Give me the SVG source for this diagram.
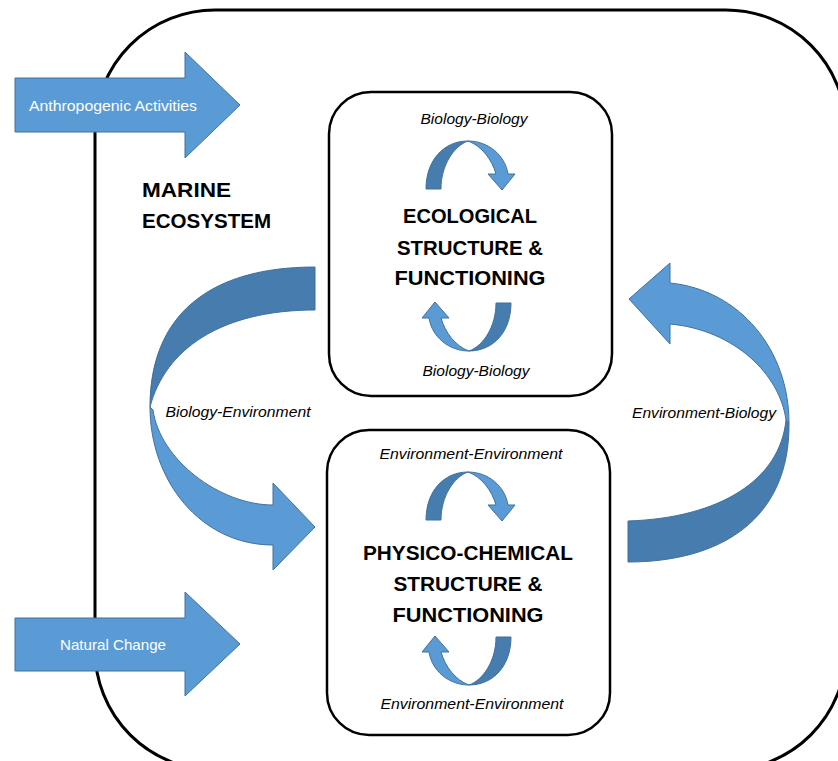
<svg xmlns="http://www.w3.org/2000/svg" xmlns:xlink="http://www.w3.org/1999/xlink" width="838" height="761" viewBox="0 0 838 761">
<style>
.frame{fill:none;stroke:#000;stroke-width:3}
.box{fill:#fff;stroke:#000;stroke-width:2.5}
.lt{fill:#5B9BD5;stroke:#41719C;stroke-width:1}
.dk{fill:#477CAE;stroke:#41719C;stroke-width:1}
.blk{fill:#5B9BD5;stroke:#41719C;stroke-width:1}
.ital{font-family:"Liberation Sans",Arial,sans-serif;font-style:italic;font-size:15px;fill:#000;text-anchor:middle}
.bold{font-family:"Liberation Sans",Arial,sans-serif;font-weight:bold;font-size:21px;fill:#000;text-anchor:middle}
.wt{font-family:"Liberation Sans",Arial,sans-serif;font-size:14.5px;fill:#fff;text-anchor:middle}
.ttl{font-family:"Liberation Sans",Arial,sans-serif;font-weight:bold;font-size:20.5px;fill:#000}
</style>
<defs>
<g id="ca">
<path class="dk" d="M426,189 C426,160 444,141 468,141 C454,146 441,165 441,189 Z"/>
<path class="lt" d="M468,141 C488,141 505,155 508,174 L515,174 L502,190 L488,174 L496,174 C492,160 482,146 468,141 Z"/>
</g>
</defs>
<rect id="marine-ecosystem" class="frame" x="95" y="10" width="751" height="760" rx="120" ry="120"/>
<text class="ttl" x="142" y="197" textLength="89" lengthAdjust="spacingAndGlyphs">MARINE</text>
<text class="ttl" x="142" y="228" textLength="129" lengthAdjust="spacingAndGlyphs">ECOSYSTEM</text>
<g id="anthropogenic">
<path class="blk" d="M15,78 L185,78 L185,52 L240,105 L185,158 L185,132 L15,132 Z"/>
<text class="wt" x="113" y="111" textLength="168" lengthAdjust="spacingAndGlyphs">Anthropogenic Activities</text>
</g>
<g id="natural">
<path class="blk" d="M15,618 L185,618 L185,592 L240,644 L185,696 L185,671 L15,671 Z"/>
<text class="wt" x="113" y="650" textLength="106" lengthAdjust="spacingAndGlyphs">Natural Change</text>
</g>
<g id="ecological">
<rect class="box" x="329" y="92" width="283" height="304" rx="42" ry="42"/>
<text class="ital" x="474" y="124" textLength="107" lengthAdjust="spacingAndGlyphs">Biology-Biology</text>
<text class="bold" x="470" y="223" textLength="134" lengthAdjust="spacingAndGlyphs">ECOLOGICAL</text>
<text class="bold" x="470" y="255" textLength="146" lengthAdjust="spacingAndGlyphs">STRUCTURE &amp;</text>
<text class="bold" x="470" y="285" textLength="151" lengthAdjust="spacingAndGlyphs">FUNCTIONING</text>
<text class="ital" x="476" y="376" textLength="107" lengthAdjust="spacingAndGlyphs">Biology-Biology</text>
<use xlink:href="#ca" href="#ca"/>
<use xlink:href="#ca" href="#ca" transform="rotate(180 468.5 246)"/>
</g>
<g id="physico">
<rect class="box" x="327" y="430" width="283" height="305" rx="42" ry="42"/>
<text class="ital" x="471" y="459" textLength="183" lengthAdjust="spacingAndGlyphs">Environment-Environment</text>
<text class="bold" x="468" y="560" textLength="210" lengthAdjust="spacingAndGlyphs">PHYSICO-CHEMICAL</text>
<text class="bold" x="468" y="591" textLength="149" lengthAdjust="spacingAndGlyphs">STRUCTURE &amp;</text>
<text class="bold" x="468" y="622" textLength="151" lengthAdjust="spacingAndGlyphs">FUNCTIONING</text>
<text class="ital" x="472" y="709" textLength="183" lengthAdjust="spacingAndGlyphs">Environment-Environment</text>
<use xlink:href="#ca" href="#ca" transform="translate(0,331)"/>
<use xlink:href="#ca" href="#ca" transform="translate(0,334) rotate(180 468.5 246)"/>
</g>
<g id="connectors">
<g id="bio-env">
<path class="dk" d="M315,267 C208,267 150,316 150,407 C165,350 220,310 315,310 Z"/>
<path class="lt" d="M150,407 C150,480 200,545 273,545 L273,570 L315,527 L273,483 L273,505 C220,505 160,460 153,410 Z"/>
<text class="ital" x="238" y="417" textLength="145" lengthAdjust="spacingAndGlyphs">Biology-Environment</text>
</g>
<g id="env-bio">
<path class="lt" d="M789,423 C789,350 740,290 670,283 L670,263 L629,299 L670,344 L670,324 C735,330 780,375 786,420 Z"/>
<path class="dk" d="M789,423 C790,520 720,562 628,562 L628,521 C720,518 780,480 786,420 Z"/>
<text class="ital" x="704" y="418" textLength="144" lengthAdjust="spacingAndGlyphs">Environment-Biology</text>
</g>
</g>
</svg>
